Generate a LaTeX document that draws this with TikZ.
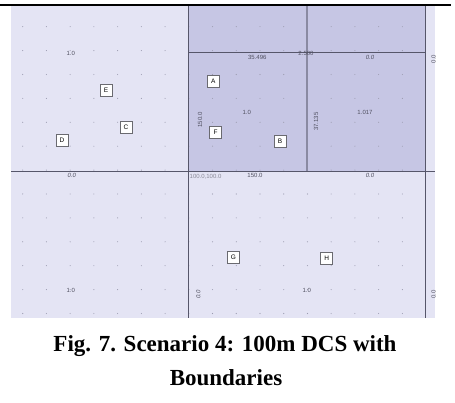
\documentclass[tikz,border=0pt]{standalone}
\usepackage{fontspec}
\setmainfont{Liberation Serif}
\newfontfamily\lblfont{Liberation Sans}
\definecolor{lightreg}{HTML}{E4E4F4}
\definecolor{darkreg}{HTML}{C6C6E4}
\definecolor{gridline}{HTML}{56566A}
\definecolor{thickline}{HTML}{8A8AA2}
\definecolor{dotcol}{HTML}{9C9CB0}
\definecolor{lbltext}{HTML}{505060}
\definecolor{coordtext}{HTML}{8A8A98}
\definecolor{boxedge}{HTML}{6A6A70}
\tikzset{
  region/.style={draw=none},
  bound/.style={draw=gridline, line width=0.9pt},
  heavybound/.style={draw=thickline, line width=2pt},
  lbl/.style={text=lbltext, font=\lblfont\fontsize{6}{7}\selectfont, inner sep=0pt},
  coordlbl/.style={text=coordtext, font=\lblfont\fontsize{6}{7}\selectfont, inner sep=0pt},
  nodebox/.style={draw=boxedge, fill=white, line width=0.9pt, minimum width=12pt, minimum height=12pt, inner sep=0pt, text=black, font=\lblfont\fontsize{6.5}{7}\selectfont},
  captiontext/.style={font=\bfseries\fontsize{23}{28}\selectfont, inner sep=0pt, anchor=base}
}
\begin{document}
\begin{tikzpicture}[x=1pt,y=-1pt]
\useasboundingbox (0,0) rectangle (455,403);
\fill[white] (0,0) rectangle (455,403);
% regions
\fill[lightreg] (11,6) rectangle (435,318);
\fill[darkreg] (188,6) rectangle (425,171);
% dots
\foreach \i in {0,...,16}{
  \foreach \j in {0,...,12}{
    \pgfmathsetmacro\xx{22.7+23.73*\i}
    \pgfmathsetmacro\yy{26.7+23.9*\j}
    \fill[dotcol] (\xx,\yy) circle (0.55pt);
  }
}
% boundaries
\coordinate (v1t) at (188,6); \coordinate (v1b) at (188,318);
\coordinate (v2t) at (425,6); \coordinate (v2b) at (425,318);
\coordinate (hl) at (11,171); \coordinate (hr) at (435,171);
\coordinate (h2l) at (188,52); \coordinate (h2r) at (425,52);
\coordinate (v3t) at (307,6); \coordinate (v3b) at (307,171);
\draw[heavybound] (v3t) -- (v3b);
\draw[bound] (v1t) -- (v1b);
\draw[bound] (v2t) -- (v2b);
\draw[bound] (hl) -- (hr);
\draw[bound] (h2l) -- (h2r);
% top rule
\coordinate (tl) at (0,4.8); \coordinate (tr) at (451,4.8);
\draw[line width=2.2pt, black] (tl) -- (tr);
% labels
\node[lbl] (l1) at (70.7,53) {1.0};
\node[lbl, font=\lblfont\itshape\fontsize{6}{7}\selectfont] (l2) at (71.7,175) {0.0};
\node[coordlbl, anchor=west] (l3) at (189.5,176.5) {100.0,100.0};
\node[lbl] (l4) at (257.3,57.3) {35.496};
\node[lbl] (l5) at (306,53.3) {2.500};
\node[lbl, font=\lblfont\itshape\fontsize{6}{7}\selectfont] (l6) at (370,57.3) {0.0};
\node[lbl, rotate=90] (l7) at (433.5,59) {0.0};
\node[lbl, rotate=90] (l8) at (200,120) {150.0};
\node[lbl] (l9) at (246.7,112.7) {1.0};
\node[lbl, rotate=90] (l10) at (316,121.7) {37.135};
\node[lbl] (l11) at (365,112.7) {1.017};
\node[lbl] (l12) at (255,175) {150.0};
\node[lbl, font=\lblfont\itshape\fontsize{6}{7}\selectfont] (l13) at (370,175) {0.0};
\node[lbl] (l14) at (70.7,290) {1.0};
\node[lbl, rotate=90, font=\lblfont\itshape\fontsize{6}{7}\selectfont] (l15) at (198.3,294.3) {0.0};
\node[lbl] (l16) at (306.7,290) {1.0};
\node[lbl, rotate=90] (l17) at (433.5,294.3) {0.0};
% entity boxes
\node[nodebox] (A) at (213.3,81.7) {A};
\node[nodebox] (E) at (106,90) {E};
\node[nodebox] (C) at (126,127.3) {C};
\node[nodebox] (D) at (62,140) {D};
\node[nodebox] (F) at (215.5,132) {F};
\node[nodebox] (B) at (280,141.7) {B};
\node[nodebox] (G) at (233.3,257.3) {G};
\node[nodebox] (H) at (326.7,258.3) {H};
% caption
\node[captiontext] (cap1) at (225,351) {Fig. 7. Scenario 4: 100m DCS with};
\node[captiontext] (cap2) at (226,385) {Boundaries};
\end{tikzpicture}
\end{document}
